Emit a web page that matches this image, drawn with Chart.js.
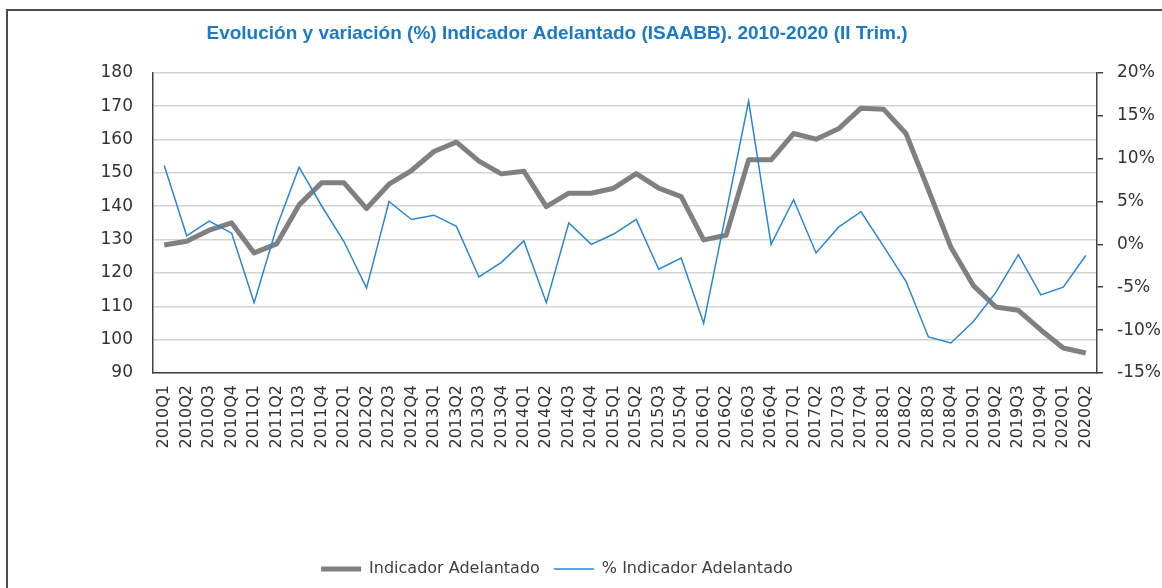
<!DOCTYPE html>
<html>
<head>
<meta charset="utf-8">
<script src="https://cdn.jsdelivr.net/npm/chart.js@4.4.1/dist/chart.umd.min.js"></script>
<style>
  html, body { margin: 0; padding: 0; background: #fff; }
  #wrap { position: relative; width: 1162px; height: 588px; overflow: hidden; }
  #frame { position: absolute; left: 6px; top: 9px; width: 1300px; height: 700px;
           border-left: 2px solid #4d4d4d; border-top: 2px solid #4d4d4d; }
  /* el lienzo se desplaza para que el título quede centrado como en el original */
  canvas { position: absolute; left: -53px; top: 0; }
</style>
</head>
<body>
<div id="wrap">
  <div id="frame"></div>
  <canvas id="myChart" width="1220" height="588"></canvas>
</div>
<script>
  const trimestres = ['2010Q1', '2010Q2', '2010Q3', '2010Q4', '2011Q1', '2011Q2', '2011Q3', '2011Q4',
    '2012Q1', '2012Q2', '2012Q3', '2012Q4', '2013Q1', '2013Q2', '2013Q3', '2013Q4',
    '2014Q1', '2014Q2', '2014Q3', '2014Q4', '2015Q1', '2015Q2', '2015Q3', '2015Q4',
    '2016Q1', '2016Q2', '2016Q3', '2016Q4', '2017Q1', '2017Q2', '2017Q3', '2017Q4',
    '2018Q1', '2018Q2', '2018Q3', '2018Q4', '2019Q1', '2019Q2', '2019Q3', '2019Q4',
    '2020Q1', '2020Q2'];

  // Indicador Adelantado (eje izquierdo)
  const indicador = [128.4, 129.5, 132.8, 135.0, 126.0, 128.7, 140.4, 147.0,
    147.0, 139.3, 146.6, 150.7, 156.4, 159.2, 153.5, 149.7,
    150.5, 139.9, 143.9, 143.9, 145.4, 149.8, 145.4, 142.9,
    129.9, 131.3, 153.9, 153.9, 161.8, 160.1, 163.2, 169.4,
    169.1, 161.8, 144.9, 127.7, 116.2, 109.8, 108.8, 102.9,
    97.5, 96.0];

  // % variación (eje derecho)
  const variacion = [9.2, 1.0, 2.7, 1.3, -6.8, 2.0, 9.0, 4.5,
    0.3, -5.1, 5.0, 2.9, 3.4, 2.1, -3.8, -2.1,
    0.4, -6.8, 2.5, 0.0, 1.2, 2.9, -2.9, -1.6,
    -9.2, 3.7, 16.7, 0.0, 5.2, -1.0, 2.0, 3.8,
    -0.2, -4.3, -10.8, -11.5, -9.0, -5.6, -1.2, -5.9,
    -5.0, -1.3];

  const ejeIzq = { min: 90, max: 180, step: 10 };
  const ejeDer = { min: -15, max: 20, step: 5 };

  const ctx = document.getElementById('myChart').getContext('2d');
  new Chart(ctx, {
    type: 'line',
    data: {
      labels: trimestres,
      datasets: [{
        label: 'Indicador Adelantado',
        data: indicador,
        yAxisID: 'y',
        borderColor: '#808080',
        backgroundColor: '#808080',
        borderWidth: 5,
        borderJoinStyle: 'round',
        pointRadius: 0,
        tension: 0,
        order: 1
      }, {
        label: '% Indicador Adelantado',
        data: variacion,
        yAxisID: 'y2',
        borderColor: '#2986d2',
        backgroundColor: '#2986d2',
        borderWidth: 1.5,
        pointRadius: 0,
        tension: 0,
        order: 0
      }]
    },
    options: {
      responsive: false,
      animation: false,
      layout: { padding: { left: 0, right: 0, top: 0, bottom: 1 } },
      plugins: {
        title: {
          display: true,
          text: 'Evolución y variación (%) Indicador Adelantado (ISAABB). 2010-2020 (II Trim.)',
          color: '#1a7ac7',
          font: { family: '"Liberation Sans Narrow", "Liberation Sans", sans-serif', size: 19, weight: 'bold', lineHeight: 1.2 },
          padding: { top: 22, bottom: 28 }
        },
        legend: {
          position: 'bottom',
          labels: {
            usePointStyle: true,
            pointStyle: 'line',
            pointStyleWidth: 40,
            padding: 14,
            color: '#404040',
            font: { family: '"DejaVu Sans"', size: 16 },
            sort: (a, b) => a.datasetIndex - b.datasetIndex
          }
        },
        tooltip: { enabled: false }
      },
      scales: {
        x: {
          offset: true,
          afterFit: (scale) => { scale.height = 174; },
          grid: { display: false, drawTicks: false },
          border: { display: true, color: '#404040', width: 1.5 },
          ticks: {
            autoSkip: false,
            minRotation: 90,
            maxRotation: 90,
            padding: 12,
            color: '#333333',
            font: { family: '"DejaVu Sans"', size: 16 }
          }
        },
        y: {
          position: 'left',
          min: ejeIzq.min,
          max: ejeIzq.max,
          afterFit: (scale) => { scale.width = 206; },
          grid: { color: '#d4d4d4', lineWidth: 1.5, drawTicks: false },
          border: { display: true, color: '#404040', width: 1.5 },
          ticks: {
            stepSize: ejeIzq.step,
            padding: 20,
            color: '#333333',
            font: { family: '"DejaVu Sans"', size: 17 }
          }
        },
        y2: {
          position: 'right',
          min: ejeDer.min,
          max: ejeDer.max,
          afterFit: (scale) => { scale.width = 70; },
          grid: { drawOnChartArea: false, drawTicks: true, tickLength: 6, color: '#404040', lineWidth: 1.5 },
          border: { display: true, color: '#404040', width: 1.5 },
          ticks: {
            stepSize: ejeDer.step,
            padding: 14,
            color: '#333333',
            font: { family: '"DejaVu Sans"', size: 17 },
            callback: (v) => v + '%'
          }
        }
      }
    }
  });
</script>
</body>
</html>
